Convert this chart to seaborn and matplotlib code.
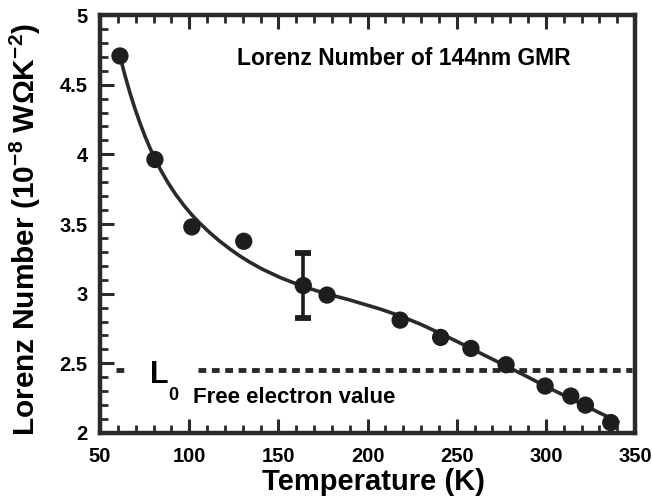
import matplotlib
matplotlib.use("Agg")
import matplotlib.pyplot as plt
import seaborn as sns
import pandas as pd
from matplotlib.ticker import MultipleLocator

# ---------------- data ----------------
temp_k = [61.2, 80.8, 101.5, 130.6, 164.0, 177.3, 218.3, 241.0, 258.0, 277.7, 299.6, 314.0, 322.2, 336.4]
lorenz = [4.706, 3.963, 3.479, 3.376, 3.058, 2.990, 2.810, 2.686, 2.607, 2.490, 2.337, 2.265, 2.200, 2.075]

err_temp = [164.0]
err_val = [3.058]
err_size = [0.235]

fit_temp = [61.2, 64.0, 66.8, 69.6, 72.4, 75.2, 78.0, 80.8, 84.0, 88.0, 92.4, 97.0, 101.4,
            106.0, 111.7, 117.0, 122.9, 128.0, 134.0, 141.0, 151.0, 164.0, 177.0, 190.0,
            207.0, 218.0, 229.5, 240.0, 250.0, 258.0, 266.9, 277.7, 289.3, 300.0, 308.0,
            315.0, 322.0, 330.4, 340.5]
fit_lorenz = [4.705, 4.566, 4.441, 4.328, 4.225, 4.131, 4.046, 3.968, 3.888, 3.799, 3.713,
              3.634, 3.567, 3.505, 3.436, 3.378, 3.320, 3.274, 3.226, 3.176, 3.116, 3.051,
              2.999, 2.955, 2.890, 2.842, 2.782, 2.720, 2.658, 2.607, 2.550, 2.481, 2.406,
              2.334, 2.284, 2.240, 2.196, 2.143, 2.080]

L0_value = 2.45

x_ticks = [50, 100, 150, 200, 250, 300, 350]
x_tick_labels = ["50", "100", "150", "200", "250", "300", "350"]
y_ticks = [2, 2.5, 3, 3.5, 4, 4.5, 5]
y_tick_labels = ["2", "2.5", "3", "3.5", "4", "4.5", "5"]

title_text = "Lorenz Number of 144nm GMR"
free_text = "Free electron value"
x_label = "Temperature (K)"
y_label = r"Lorenz Number (10$^{\mathbf{-8}}$ W$\mathbf{\Omega}$K$^{\mathbf{-2}}$)"

# ---------------- style ----------------
sns.set_theme(style="ticks")
plt.rcParams["font.family"] = ["Liberation Sans", "DejaVu Sans"]
plt.rcParams["font.weight"] = "bold"
plt.rcParams["mathtext.fontset"] = "custom"
plt.rcParams["mathtext.rm"] = "Liberation Sans:bold"
plt.rcParams["mathtext.bf"] = "Liberation Sans:bold"
plt.rcParams["mathtext.it"] = "Liberation Sans:bold"

ink = "#1e1e1e"
line_ink = "#2a2a2a"

fig = plt.figure(figsize=(6.52, 5.01), dpi=100)
ax = fig.add_axes([100 / 652, 1 - 433 / 501, 535 / 652, 418 / 501])

pts = pd.DataFrame({"T": temp_k, "L": lorenz})
fit = pd.DataFrame({"T": fit_temp, "L": fit_lorenz})

sns.lineplot(data=fit, x="T", y="L", ax=ax, color=line_ink, linewidth=2.6,
             sort=False, estimator=None, zorder=2)
ax.errorbar(err_temp, err_val, yerr=err_size, fmt="none", ecolor=ink,
            elinewidth=2.6, capsize=6, capthick=4.2, zorder=3)
sns.scatterplot(data=pts, x="T", y="L", ax=ax, color=ink, s=155,
                edgecolor="none", linewidth=0, zorder=4)

# L0 reference line (interrupted by the label)
ls = (0, (1.6, 1.15))
ax.axhline(L0_value, xmin=0.030, xmax=0.054, color=line_ink, lw=3.5,
           linestyle=ls, dash_capstyle="butt", zorder=1)
ax.axhline(L0_value, xmin=0.183, xmax=0.995, color=line_ink, lw=3.5,
           linestyle=ls, dash_capstyle="butt", zorder=1)

ax.text(0.0935, 0.1196, "L", transform=ax.transAxes, fontsize=22,
        fontweight="bold", ha="left", va="baseline", color="black")
ax.text(0.127, 0.079, "0", transform=ax.transAxes, fontsize=13,
        fontweight="bold", ha="left", va="baseline", color="black")
ax.text(0.174, 0.0718, free_text, transform=ax.transAxes, fontsize=16,
        fontweight="bold", ha="left", va="baseline", color="black")
ax.text(0.256, 0.880, title_text, transform=ax.transAxes, fontsize=16.5,
        fontweight="bold", ha="left", va="baseline", color="black")

# axes
ax.set_xlim(50, 350)
ax.set_ylim(2, 5)
ax.set_xticks(x_ticks, labels=x_tick_labels)
ax.set_yticks(y_ticks, labels=y_tick_labels)
ax.xaxis.set_minor_locator(MultipleLocator(10))
ax.yaxis.set_minor_locator(MultipleLocator(0.1))

ax.tick_params(axis="both", which="both", direction="in", color=line_ink,
               top=True, right=False, bottom=True, left=True)
ax.tick_params(axis="both", which="major", length=10, width=2.2, labelsize=14.5,
               labelcolor="black")
ax.tick_params(axis="both", which="minor", length=5.5, width=2.0)
ax.tick_params(axis="x", which="major", pad=10)
ax.tick_params(axis="y", which="major", pad=9)
for lab in ax.get_xticklabels() + ax.get_yticklabels():
    lab.set_fontweight("bold")

for side in ["left", "right", "top", "bottom"]:
    ax.spines[side].set_visible(True)
    ax.spines[side].set_linewidth(3.2)
    ax.spines[side].set_color(line_ink)

ax.set_xlabel(x_label, fontsize=21, fontweight="bold", color="black")
ax.set_ylabel(y_label, fontsize=21.5, fontweight="bold", color="black")
ax.xaxis.set_label_coords(0.511, -0.083)
ax.yaxis.set_label_coords(-0.107, 0.486)

fig.savefig("out.png", dpi=100, facecolor="white")
